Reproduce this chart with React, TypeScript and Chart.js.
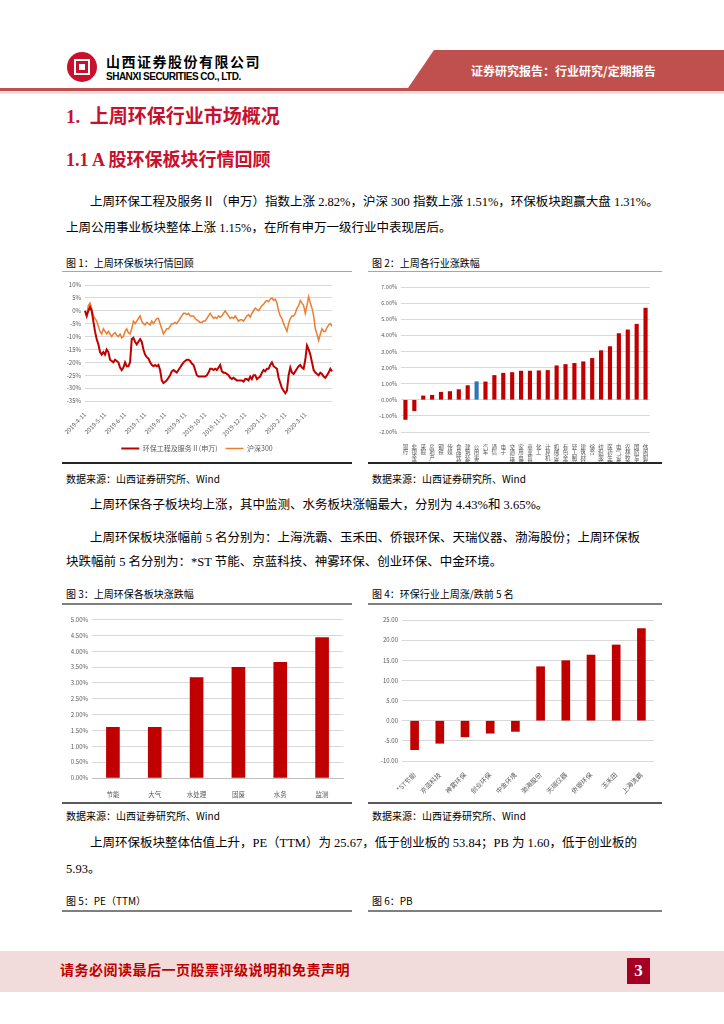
import React, { useEffect, useRef } from 'react';
import { Chart, registerables } from 'chart.js';

Chart.register(...registerables);

const SANS = '"Noto Sans CJK SC", "Noto Sans", sans-serif';
const SERIF = '"Liberation Serif", "Noto Sans CJK SC", serif';
const TICK = '#595959';
const GRID = '#D9D9D9';
const RED = '#C00000';

// ---------- Figure 1: weekly market review (cumulative %, 2019-04 .. 2020-04) ----------
const fig1DateTicks = [
  '2019-4-11', '2019-5-11', '2019-6-11', '2019-7-11', '2019-8-11', '2019-9-11',
  '2019-10-11', '2019-11-11', '2019-12-11', '2020-1-11', '2020-2-11', '2020-3-11',
];
const fig1SeriesNames = ['环保工程及服务Ⅱ(申万)', '沪深300'];
const fig1Industry = [
  0, -2, 0, 1.5, 0, -4, -8, -11, -13, -16,
  -17, -16, -17, -15, -16, -19, -19.5, -20, -19, -19.5,
  -20, -22, -23, -22, -20, -21.5, -21.5, -20, -11, -10.5,
  -12, -13, -12, -11, -12, -15, -17, -18, -18.5, -20,
  -21, -21.5, -21, -21.5, -21, -23, -27, -28, -27.5, -27,
  -26, -25, -23.5, -23, -23.5, -24, -23, -22, -21, -20,
  -19.5, -19, -19, -19.5, -20.5, -21, -23, -25, -25.5, -25.5,
  -25.5, -25.5, -25.5, -25, -24, -22.5, -22.5, -23, -22.5, -23,
  -22, -21, -23.5, -24, -24, -24.5, -25, -26, -26.5, -26,
  -26.5, -27, -27, -27, -27, -27.5, -26.5, -26.5, -27, -25.5,
  -26.5, -25, -25, -26.5, -26, -25.5, -24, -23, -23.5, -22.5,
  -22.5, -21, -20, -21.5, -22, -22.5, -26, -28, -30, -31,
  -32, -31, -25, -22, -24, -24.5, -23.5, -22.5, -21.5, -21,
  -22, -22.5, -19, -13.5, -15, -17, -20, -23, -24, -24.5,
  -25, -24, -24.5, -25.5, -26, -25, -24, -22.5, -23.5,
];
const fig1Hs300 = [
  0, -2, 2, 3, 1, -2, -3, -4, -6, -8,
  -9, -7, -8, -9, -8, -9, -10, -9, -8.5, -9.5,
  -10, -9, -10.5, -10, -8, -7, -8.5, -9, -7, -4,
  -5, -4, -3, -2, -4, -5, -5.5, -4.5, -5, -5.5,
  -4, -5, -4, -3, -3, -5, -7, -9, -8, -7,
  -7, -6, -5, -5, -4.5, -5, -4, -3, -2, -1,
  -1, -1.5, -1, -2, -2, -2, -3, -3.5, -4, -4.5,
  -4.5, -4, -4, -3, -2, -1, -2, -3, -2.5, -3,
  -2, -2.5, -2, -1, 0, -1, -2, -3, -2.5, -3,
  -2, -3, -4, -3.5, -3.5, -4, -3, -2, -1.5, -2.5,
  -1, 0, 1, 0.5, 0, 1, 2, 2.5, 3.5, 4,
  3.5, 4.5, 5, 4, 4.5, 3, 0, -2, -3, -5,
  -6.5, -8, -5, -3, -2, -2, -1, 1, 2, 4,
  3, 2, -1, 2, 5.5, 3, 1, -2, -7, -9,
  -11.5, -9, -7, -8, -8, -6.5, -5.5, -5, -6,
];

// ---------- Figure 2: weekly change by SW level-1 industry (%) ----------
const fig2Industries = [
  '银行', '非银金融', '采掘', '房地产', '钢铁', '传媒', '食品饮料', '建筑装饰', '公用事业', '汽车',
  '通信', '电子', '交通运输', '家用电器', '商业贸易', '化工', '计算机', '机械设备', '有色金属', '轻工制造',
  '建筑材料', '综合', '纺织服装', '医药生物', '电气设备', '农林牧渔', '国防军工', '休闲服务',
];
const fig2Changes = [
  -1.22, -0.68, 0.24, 0.28, 0.47, 0.51, 0.63, 0.88, 1.12, 1.11,
  1.51, 1.65, 1.69, 1.78, 1.78, 1.80, 1.82, 2.11, 2.19, 2.26,
  2.36, 2.57, 3.05, 3.30, 4.11, 4.34, 4.69, 5.69,
];
const fig2Highlight = '公用事业';

// ---------- Figure 3: sub-sector change (%) ----------
const fig3Segments = ['节能', '大气', '水处理', '固废', '水务', '监测'];
const fig3Changes = [1.6, 1.6, 3.17, 3.49, 3.65, 4.43];

// ---------- Figure 4: top 5 gainers / losers (%) ----------
const fig4Stocks = ['*ST节能', '京蓝科技', '神雾环保', '创业环保', '中金环境', '渤海股份', '天瑞仪器', '侨银环保', '玉禾田', '上海洗霸'];
const fig4Changes = [-7.2, -5.6, -4.0, -3.1, -2.65, 13.4, 14.9, 16.3, 18.8, 22.9];

const tickFont = (size: number) => ({ size, family: SANS });

function ChartBox({ left, top, width, height, make }: any) {
  const ref = useRef<HTMLCanvasElement | null>(null);
  useEffect(() => {
    const chart = new Chart(ref.current as HTMLCanvasElement, make());
    return () => chart.destroy();
  }, []);
  return (
    <div style={{ position: 'absolute', left, top, width, height }}>
      <canvas ref={ref} width={width} height={height} style={{ display: 'block', width, height }} />
    </div>
  );
}

const fig1Config = () => ({
  type: 'line',
  data: {
    labels: fig1Industry.map((_, i) => i),
    datasets: [
      { label: fig1SeriesNames[0], data: fig1Industry, borderColor: RED, backgroundColor: RED, borderWidth: 2, pointRadius: 0, tension: 0 },
      { label: fig1SeriesNames[1], data: fig1Hs300, borderColor: '#ED7D31', backgroundColor: '#ED7D31', borderWidth: 1.5, pointRadius: 0, tension: 0 },
    ],
  },
  options: {
    animation: false,
    responsive: false,
    layout: { padding: { top: 8, right: 18, left: 0, bottom: 0 } },
    plugins: {
      legend: {
        position: 'bottom',
        labels: { usePointStyle: true, pointStyle: 'line', pointStyleWidth: 18, font: tickFont(7), color: TICK, padding: 8 },
      },
      tooltip: { enabled: false },
    },
    scales: {
      x: {
        grid: { display: false },
        border: { display: false },
        ticks: {
          autoSkip: false, maxRotation: 45, minRotation: 45, font: tickFont(6), color: TICK, padding: 2,
          callback: (_v: any, i: number) => (i % 12 === 0 ? fig1DateTicks[i / 12] ?? '' : ''),
        },
        afterFit: (s: any) => { s.height = 36; },
      },
      y: {
        min: -35, max: 10,
        ticks: { stepSize: 5, font: tickFont(6), color: TICK, padding: 4, callback: (v: any) => v + '%' },
        grid: { color: GRID, drawTicks: false },
        border: { display: false },
        afterFit: (s: any) => { s.width = 23; },
      },
    },
  },
});

const fig2Config = () => ({
  type: 'bar',
  data: {
    labels: fig2Industries.map((s) => s.split('')),
    datasets: [{
      data: fig2Changes,
      backgroundColor: fig2Industries.map((s) => (s === fig2Highlight ? '#2F75B5' : RED)),
      barThickness: 3.5,
    }],
  },
  options: {
    animation: false,
    responsive: false,
    layout: { padding: { top: 10, right: 10, left: 0, bottom: 0 } },
    plugins: { legend: { display: false }, tooltip: { enabled: false } },
    scales: {
      x: {
        grid: { display: false },
        border: { display: false },
        ticks: { autoSkip: false, maxRotation: 0, minRotation: 0, font: { size: 5.5, family: SANS, lineHeight: 1 }, color: TICK, padding: 4 },
        afterFit: (s: any) => { s.height = 30; },
      },
      y: {
        min: -2, max: 7,
        ticks: { stepSize: 1, font: tickFont(5.5), color: TICK, padding: 4, callback: (v: any) => Number(v).toFixed(2) + '%' },
        grid: { color: GRID, drawTicks: false },
        border: { display: false },
        afterFit: (s: any) => { s.width = 33; },
      },
    },
  },
});

const fig3Config = () => ({
  type: 'bar',
  data: {
    labels: fig3Segments,
    datasets: [{ data: fig3Changes, backgroundColor: RED, barThickness: 13 }],
  },
  options: {
    animation: false,
    responsive: false,
    layout: { padding: { top: 7, right: 7, left: 0, bottom: 0 } },
    plugins: { legend: { display: false }, tooltip: { enabled: false } },
    scales: {
      x: {
        grid: { display: false },
        border: { display: true, color: '#BFBFBF' },
        ticks: { font: tickFont(6.5), color: TICK, padding: 5 },
        afterFit: (s: any) => { s.height = 24; },
      },
      y: {
        min: 0, max: 5,
        ticks: { stepSize: 0.5, font: tickFont(6), color: TICK, padding: 4, callback: (v: any) => Number(v).toFixed(2) + '%' },
        grid: { color: GRID, drawTicks: false },
        border: { display: false },
        afterFit: (s: any) => { s.width = 32; },
      },
    },
  },
});

const fig4Config = () => ({
  type: 'bar',
  data: {
    labels: fig4Stocks,
    datasets: [{ data: fig4Changes, backgroundColor: RED, barThickness: 8 }],
  },
  options: {
    animation: false,
    responsive: false,
    layout: { padding: { top: 8, right: 11, left: 0, bottom: 0 } },
    plugins: { legend: { display: false }, tooltip: { enabled: false } },
    scales: {
      x: {
        grid: { display: false },
        border: { display: false },
        ticks: { autoSkip: false, maxRotation: 45, minRotation: 45, font: tickFont(6.5), color: TICK, padding: 2 },
        afterFit: (s: any) => { s.height = 41; },
      },
      y: {
        min: -10, max: 25,
        ticks: { stepSize: 5, font: tickFont(6), color: TICK, padding: 4, callback: (v: any) => Number(v).toFixed(2) },
        grid: { color: GRID, drawTicks: false },
        border: { display: false },
        afterFit: (s: any) => { s.width = 37; },
      },
    },
  },
});

function T({ x, y, size, children, color = '#000', family = SERIF, weight = 400, style = {} }: any) {
  return (
    <div style={{
      position: 'absolute', left: x, top: y - size * 0.65, fontSize: size, lineHeight: `${size * 1.3}px`,
      color, fontFamily: family, fontWeight: weight, whiteSpace: 'nowrap', ...style,
    }}>{children}</div>
  );
}

function HLine({ x, y, w, h = 1, color = '#808080' }: any) {
  return <div style={{ position: 'absolute', left: x, top: y, width: w, height: h, background: color }} />;
}

export default function App() {
  return (
    <div style={{ position: 'absolute', left: 0, top: 0, width: 724, height: 1024, background: '#fff', overflow: 'hidden' }}>
      {/* Header */}
      <div style={{ position: 'absolute', left: 67, top: 52, width: 30, height: 30, borderRadius: 15, background: '#C8102E' }}>
        <div style={{ position: 'absolute', left: 7, top: 7, width: 12, height: 12, border: '2px solid #fff' }} />
        <div style={{ position: 'absolute', left: 12, top: 12, width: 6, height: 6, background: '#fff' }} />
      </div>
      <T x={106} y={61} size={14} family={SANS} weight={700} style={{ letterSpacing: 1.5 }}>山西证券股份有限公司</T>
      <T x={106} y={76} size={10} family={'"Liberation Sans", Arial, sans-serif'} weight={700} style={{ letterSpacing: -0.5 }}>SHANXI SECURITIES CO., LTD.</T>
      <div style={{ position: 'absolute', left: 408, top: 50, width: 316, height: 38, background: '#C0504D', clipPath: 'polygon(26px 0, 100% 0, 100% 100%, 0 100%)' }} />
      <T x={471} y={71} size={12} family={SANS} weight={700} color="#fff">证券研究报告：行业研究/定期报告</T>
      <HLine x={0} y={88} w={724} h={3} color="#C0504D" />
      <HLine x={0} y={91} w={724} h={3} color="#F2DCDB" />

      {/* Titles */}
      <T x={66} y={117} size={19} weight={700} color="#C8102E">1.&nbsp;&nbsp;上周环保行业市场概况</T>
      <T x={66} y={161} size={18} weight={700} color="#C8102E">1.1 A 股环保板块行情回顾</T>

      <T x={90} y={202} size={12.5}>上周环保工程及服务Ⅱ（申万）指数上涨 2.82%，沪深 300 指数上涨 1.51%，环保板块跑赢大盘 1.31%。</T>
      <T x={66} y={228} size={12.5}>上周公用事业板块整体上涨 1.15%，在所有申万一级行业中表现居后。</T>

      <T x={66} y={262} size={10} family={SANS}>图 1：上周环保板块行情回顾</T>
      <T x={372} y={262} size={10} family={SANS}>图 2：上周各行业涨跌幅</T>
      <HLine x={62} y={271} w={290} h={1} color="#A6A6A6" />
      <HLine x={368} y={271} w={294} h={1} color="#A6A6A6" />

      <ChartBox left={62} top={277} width={288} height={185} make={fig1Config} />
      <ChartBox left={368} top={277} width={292} height={185} make={fig2Config} />

      <HLine x={62} y={462} w={290} h={2} color="#262626" />
      <HLine x={368} y={462} w={294} h={2} color="#262626" />
      <T x={66} y={478} size={10} family={SANS}>数据来源：山西证券研究所、Wind</T>
      <T x={372} y={478} size={10} family={SANS}>数据来源：山西证券研究所、Wind</T>

      <T x={90} y={505} size={12.5}>上周环保各子板块均上涨，其中监测、水务板块涨幅最大，分别为 4.43%和 3.65%。</T>
      <T x={90} y={538} size={12.5}>上周环保板块涨幅前 5 名分别为：上海洗霸、玉禾田、侨银环保、天瑞仪器、渤海股份；上周环保板</T>
      <T x={66} y={562} size={12.5}>块跌幅前 5 名分别为：*ST 节能、京蓝科技、神雾环保、创业环保、中金环境。</T>

      <T x={66} y={593} size={10} family={SANS}>图 3：上周环保各板块涨跌幅</T>
      <T x={372} y={593} size={10} family={SANS}>图 4：环保行业上周涨/跌前 5 名</T>
      <HLine x={62} y={603} w={290} h={2} color="#7F7F7F" />
      <HLine x={368} y={603} w={294} h={2} color="#7F7F7F" />

      <ChartBox left={60} top={612} width={290} height={190} make={fig3Config} />
      <ChartBox left={365} top={612} width={300} height={190} make={fig4Config} />

      <HLine x={62} y={802} w={290} h={2} color="#595959" />
      <HLine x={368} y={802} w={294} h={2} color="#595959" />
      <T x={66} y={815} size={10} family={SANS}>数据来源：山西证券研究所、Wind</T>
      <T x={372} y={815} size={10} family={SANS}>数据来源：山西证券研究所、Wind</T>

      <T x={90} y={843} size={12.5}>上周环保板块整体估值上升，PE（TTM）为 25.67，低于创业板的 53.84；PB 为 1.60，低于创业板的</T>
      <T x={66} y={869} size={12.5}>5.93。</T>

      <T x={66} y={900} size={10} family={SANS}>图 5：PE（TTM）</T>
      <T x={372} y={900} size={10} family={SANS}>图 6：PB</T>
      <HLine x={62} y={910} w={290} h={2} color="#7F7F7F" />
      <HLine x={368} y={910} w={294} h={2} color="#7F7F7F" />

      {/* Footer */}
      <div style={{ position: 'absolute', left: 0, top: 951, width: 724, height: 41, background: '#F2DCDB' }} />
      <T x={60} y={971} size={14} weight={700} color="#C00000" style={{ letterSpacing: 0.5 }}>请务必阅读最后一页股票评级说明和免责声明</T>
      <div style={{ position: 'absolute', left: 627, top: 958, width: 23, height: 26, background: '#A50021', color: '#fff', fontFamily: SERIF, fontWeight: 700, fontSize: 17, lineHeight: '26px', textAlign: 'center' }}>3</div>
    </div>
  );
}
